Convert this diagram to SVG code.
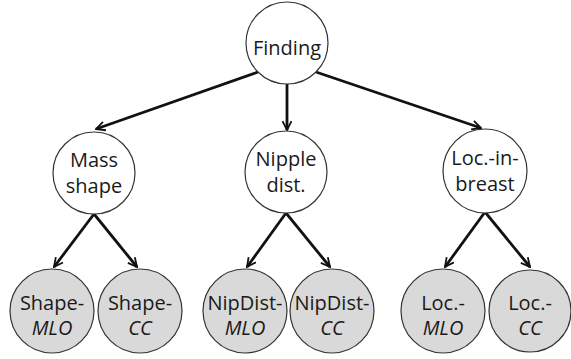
<svg xmlns="http://www.w3.org/2000/svg" width="571" height="359" viewBox="0 0 571 359">
  <defs>
    <marker id="arrow" viewBox="0 0 10 10" refX="9" refY="5" markerWidth="4" markerHeight="4" orient="auto" markerUnits="strokeWidth">
      <path d="M1,1 L9,5 L1,9" fill="none" stroke="#111" stroke-width="1.6"/>
    </marker>
    <style>
      .node { stroke: #333; stroke-width: 1.2; }
      .hidden { fill: #ffffff; }
      .obs { fill: #d9d9d9; }
      .label { font-family: "Open Sans", "Liberation Sans", sans-serif; font-size: 20px; fill: #1a1a1a; text-anchor: middle; }
      .it { font-style: italic; }
      .edge { stroke: #111; stroke-width: 2.8; fill: none; marker-end: url(#arrow); }
    </style>
  </defs>
  <rect width="571" height="359" fill="#ffffff"/>

  <g id="edges">
    <line class="edge" x1="258" y1="72" x2="96" y2="129"/>
    <line class="edge" x1="287" y1="84" x2="287" y2="130"/>
    <line class="edge" x1="316" y1="72" x2="481" y2="128"/>
    <line class="edge" x1="94" y1="214" x2="54" y2="267"/>
    <line class="edge" x1="94" y1="214" x2="137" y2="267"/>
    <line class="edge" x1="286" y1="213" x2="247" y2="267"/>
    <line class="edge" x1="286" y1="213" x2="330" y2="267"/>
    <line class="edge" x1="485" y1="212" x2="445" y2="267"/>
    <line class="edge" x1="485" y1="212" x2="530" y2="267"/>
  </g>

  <g id="finding">
    <circle class="node hidden" cx="287" cy="43" r="41"/>
    <text class="label" x="287" y="55">Finding</text>
  </g>

  <g id="mass-shape">
    <circle class="node hidden" cx="94" cy="173" r="41"/>
    <text class="label" x="94" y="167">Mass</text>
    <text class="label" x="94" y="193">shape</text>
  </g>

  <g id="nipple-dist">
    <circle class="node hidden" cx="286" cy="172" r="41"/>
    <text class="label" x="286" y="166">Nipple</text>
    <text class="label" x="286" y="192">dist.</text>
  </g>

  <g id="loc-in-breast">
    <circle class="node hidden" cx="485" cy="171" r="42"/>
    <text class="label" x="485" y="165">Loc.-in-</text>
    <text class="label" x="485" y="191">breast</text>
  </g>

  <g id="shape-mlo">
    <circle class="node obs" cx="52" cy="311" r="42"/>
    <text class="label" x="52" y="310">Shape-</text>
    <text class="label it" x="52" y="335">MLO</text>
  </g>

  <g id="shape-cc">
    <circle class="node obs" cx="140" cy="311" r="42"/>
    <text class="label" x="140" y="310">Shape-</text>
    <text class="label it" x="140" y="335">CC</text>
  </g>

  <g id="nipdist-mlo">
    <circle class="node obs" cx="245" cy="311" r="42"/>
    <text class="label" x="245" y="310">NipDist-</text>
    <text class="label it" x="245" y="335">MLO</text>
  </g>

  <g id="nipdist-cc">
    <circle class="node obs" cx="332" cy="311" r="42"/>
    <text class="label" x="332" y="310">NipDist-</text>
    <text class="label it" x="332" y="335">CC</text>
  </g>

  <g id="loc-mlo">
    <circle class="node obs" cx="443" cy="311" r="42"/>
    <text class="label" x="443" y="310">Loc.-</text>
    <text class="label it" x="443" y="335">MLO</text>
  </g>

  <g id="loc-cc">
    <circle class="node obs" cx="530" cy="311" r="41"/>
    <text class="label" x="530" y="310">Loc.-</text>
    <text class="label it" x="530" y="335">CC</text>
  </g>
</svg>
